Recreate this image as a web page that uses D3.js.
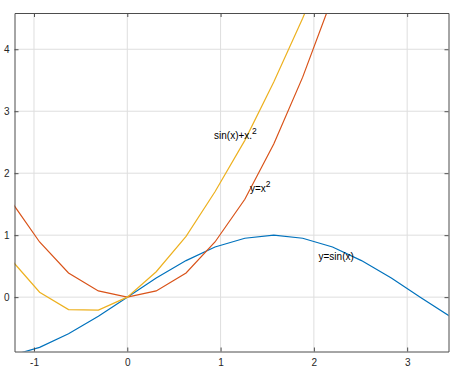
<!DOCTYPE html>
<html>
<head>
<meta charset="utf-8">
<script src="https://cdn.jsdelivr.net/npm/d3@7"></script>
<style>
  body { margin: 0; background: #fff; }
  text { font-family: "Liberation Sans", Arial, sans-serif; }
</style>
</head>
<body>
<div id="chart"></div>
<script>
// values (step about pi/10)
var xValues   = [-1.26, -0.94, -0.63, -0.31, 0, 0.31, 0.63, 0.94, 1.26, 1.57, 1.88, 2.20, 2.51, 2.83, 3.14, 3.46];
var sinValues = [-0.95, -0.81, -0.59, -0.31, 0, 0.31, 0.59, 0.81, 0.95, 1.00, 0.95, 0.81, 0.59, 0.31, 0, -0.31];
var sqValues  = [1.58, 0.89, 0.39, 0.10, 0, 0.10, 0.39, 0.89, 1.58, 2.47, 3.55, 4.84, 6.32, 7.99, 9.87, 11.94];
var sumValues = [0.63, 0.08, -0.20, -0.21, 0, 0.41, 0.98, 1.70, 2.53, 3.47, 4.50, 5.65, 6.91, 8.30, 9.87, 11.63];

var xTicks = [-1, 0, 1, 2, 3];
var yTicks = [0, 1, 2, 3, 4];

var labelText = ["sin(x)+x.", "y=x", "y=sin(x)"];
var labelSup  = ["2", "2", ""];
var labelX    = [0.93, 1.315, 2.05];
var labelY    = [2.55, 1.70, 0.60];

var margin = {top: 13, right: 15.5, bottom: 20.5, left: 14.5},
    width = 464 - margin.left - margin.right,
    height = 372 - margin.top - margin.bottom;

var svg = d3.select("#chart").append("svg")
    .attr("width", 464)
    .attr("height", 372)
  .append("g")
    .attr("transform", "translate(" + margin.left + "," + margin.top + ")");

var x = d3.scaleLinear().domain([-1.209, 3.443]).range([0, width]);
var y = d3.scaleLinear().domain([-0.877, 4.585]).range([height, 0]);

svg.append("defs").append("clipPath").attr("id", "clip")
  .append("rect").attr("width", width).attr("height", height);

// grid
svg.append("g").selectAll("line").data(xTicks).enter().append("line")
    .attr("x1", d => x(d)).attr("x2", d => x(d))
    .attr("y1", 0).attr("y2", height)
    .style("stroke", "#dedede").style("stroke-width", 1);
svg.append("g").selectAll("line").data(yTicks).enter().append("line")
    .attr("y1", d => y(d)).attr("y2", d => y(d))
    .attr("x1", 0).attr("x2", width)
    .style("stroke", "#dedede").style("stroke-width", 1);

// curves
var series = [
  {vals: sinValues, color: "#0072BD"},
  {vals: sqValues,  color: "#D95319"},
  {vals: sumValues, color: "#EDB120"}
];
var line = d3.line().x(d => x(d[0])).y(d => y(d[1]));
svg.append("g").attr("clip-path", "url(#clip)")
  .selectAll("path").data(series).enter().append("path")
    .attr("d", s => line(xValues.map((v, i) => [v, s.vals[i]])))
    .style("fill", "none")
    .style("stroke", s => s.color)
    .style("stroke-width", 1.2);

// axes, ticks inward, box on all sides
var axisColor = "#4d4d4d";
var fmt = d => String(d);
var bottomAxis = svg.append("g")
    .attr("transform", "translate(0," + height + ")")
    .call(d3.axisBottom(x).tickValues(xTicks).tickFormat(fmt).tickSizeInner(-4).tickSizeOuter(0).tickPadding(7));
var leftAxis = svg.append("g")
    .call(d3.axisLeft(y).tickValues(yTicks).tickFormat(fmt).tickSizeInner(-4).tickSizeOuter(0).tickPadding(5));
var topAxis = svg.append("g")
    .call(d3.axisTop(x).tickValues(xTicks).tickSizeInner(-4).tickSizeOuter(0).tickFormat(""));
var rightAxis = svg.append("g")
    .attr("transform", "translate(" + width + ",0)")
    .call(d3.axisRight(y).tickValues(yTicks).tickSizeInner(-4).tickSizeOuter(0).tickFormat(""));

[bottomAxis, leftAxis, topAxis, rightAxis].forEach(function(a) {
  a.select(".domain").style("stroke", axisColor).style("stroke-width", 1);
  a.selectAll(".tick line").style("stroke", axisColor);
  a.selectAll(".tick text")
    .style("fill", "#262626")
    .style("font-size", "10px")
    .style("font-family", "'Liberation Sans', Arial, sans-serif");
});

// curve labels
var labels = svg.append("g").selectAll("text").data(labelText).enter().append("text")
    .attr("x", (d, i) => x(labelX[i]))
    .attr("y", (d, i) => y(labelY[i]))
    .style("font-size", "10px")
    .style("fill", "#000");
labels.append("tspan").text(d => d);
labels.append("tspan")
    .attr("dy", "-0.6em")
    .style("font-size", "8.5px")
    .text((d, i) => labelSup[i]);
</script>
</body>
</html>
